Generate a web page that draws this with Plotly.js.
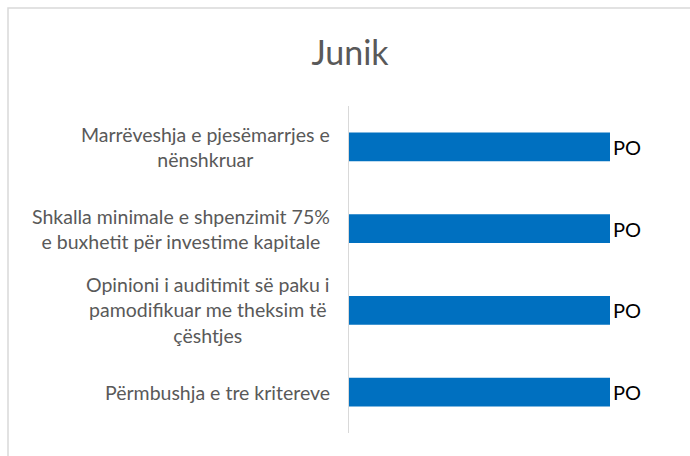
<!DOCTYPE html>
<html>
<head>
<meta charset="utf-8">
<script src="https://cdn.plot.ly/plotly-3.0.1.min.js"></script>
<style>
  html, body { margin: 0; padding: 0; background: #ffffff; }
  #chart { width: 690px; height: 456px; }
</style>
</head>
<body>
<div id="chart"></div>
<script>
// ---- data ----
var categories = [
  "Marrëveshja e pjesëmarrjes e<br>nënshkruar",
  "Shkalla minimale e shpenzimit 75%<br>e buxhetit për investime kapitale",
  "Opinioni i auditimit së paku i<br>pamodifikuar me theksim të<br>çështjes",
  "Përmbushja e tre kritereve"
];
var values = [1, 1, 1, 1];
var valueLabels = ["PO", "PO", "PO", "PO"];
var chartTitle = "Junik";

// ---- layout constants ----
var W = 690, H = 456;
var mL = 349, mR = 80, mT = 106, mB = 23;
var pw = W - mL - mR, ph = H - mT - mB;
function px2paperX(px) { return (px - mL) / pw; }
function px2paperY(py) { return (H - mB - py) / ph; }

var FONT = "Lato, 'Open Sans', sans-serif";

var trace = {
  type: "bar",
  orientation: "h",
  y: categories,
  x: values,
  text: valueLabels,
  textposition: "outside",
  textfont: { family: FONT, size: 20, color: "#000000" },
  constraintext: "none",
  cliponaxis: false,
  marker: { color: "#0070C0" },
  hoverinfo: "none"
};

var annotations = categories.map(function (c) {
  return {
    xref: "paper", yref: "y",
    x: 0, y: c,
    xanchor: "right", yanchor: "middle",
    xshift: -17,
    text: c,
    align: "center",
    showarrow: false,
    font: { family: FONT, size: 19.5, color: "#595959" }
  };
});

var layout = {
  width: W, height: H,
  margin: { l: mL, r: mR, t: mT, b: mB, pad: 0 },
  paper_bgcolor: "#ffffff",
  plot_bgcolor: "#ffffff",
  showlegend: false,
  bargap: 0.646,
  title: {
    text: chartTitle,
    font: { family: FONT, size: 34, color: "#595959" },
    xref: "container", yref: "container",
    x: 350 / W, xanchor: "center",
    y: 1 - 53 / H, yanchor: "middle"
  },
  xaxis: {
    range: [0, 1],
    visible: false,
    fixedrange: true
  },
  yaxis: {
    type: "category",
    autorange: "reversed",
    showticklabels: false,
    showgrid: false,
    zeroline: false,
    showline: true,
    linecolor: "#d9d9d9",
    linewidth: 1,
    ticks: "",
    fixedrange: true
  },
  annotations: annotations,
  shapes: [{
    type: "rect",
    xref: "paper", yref: "paper",
    x0: px2paperX(8), x1: px2paperX(700),
    y0: px2paperY(8), y1: px2paperY(470),
    line: { color: "#d9d9d9", width: 1.5 },
    fillcolor: "rgba(0,0,0,0)",
    layer: "below"
  }],
  hovermode: false
};

Plotly.newPlot("chart", [trace], layout, { displayModeBar: false, staticPlot: true });
</script>
</body>
</html>
